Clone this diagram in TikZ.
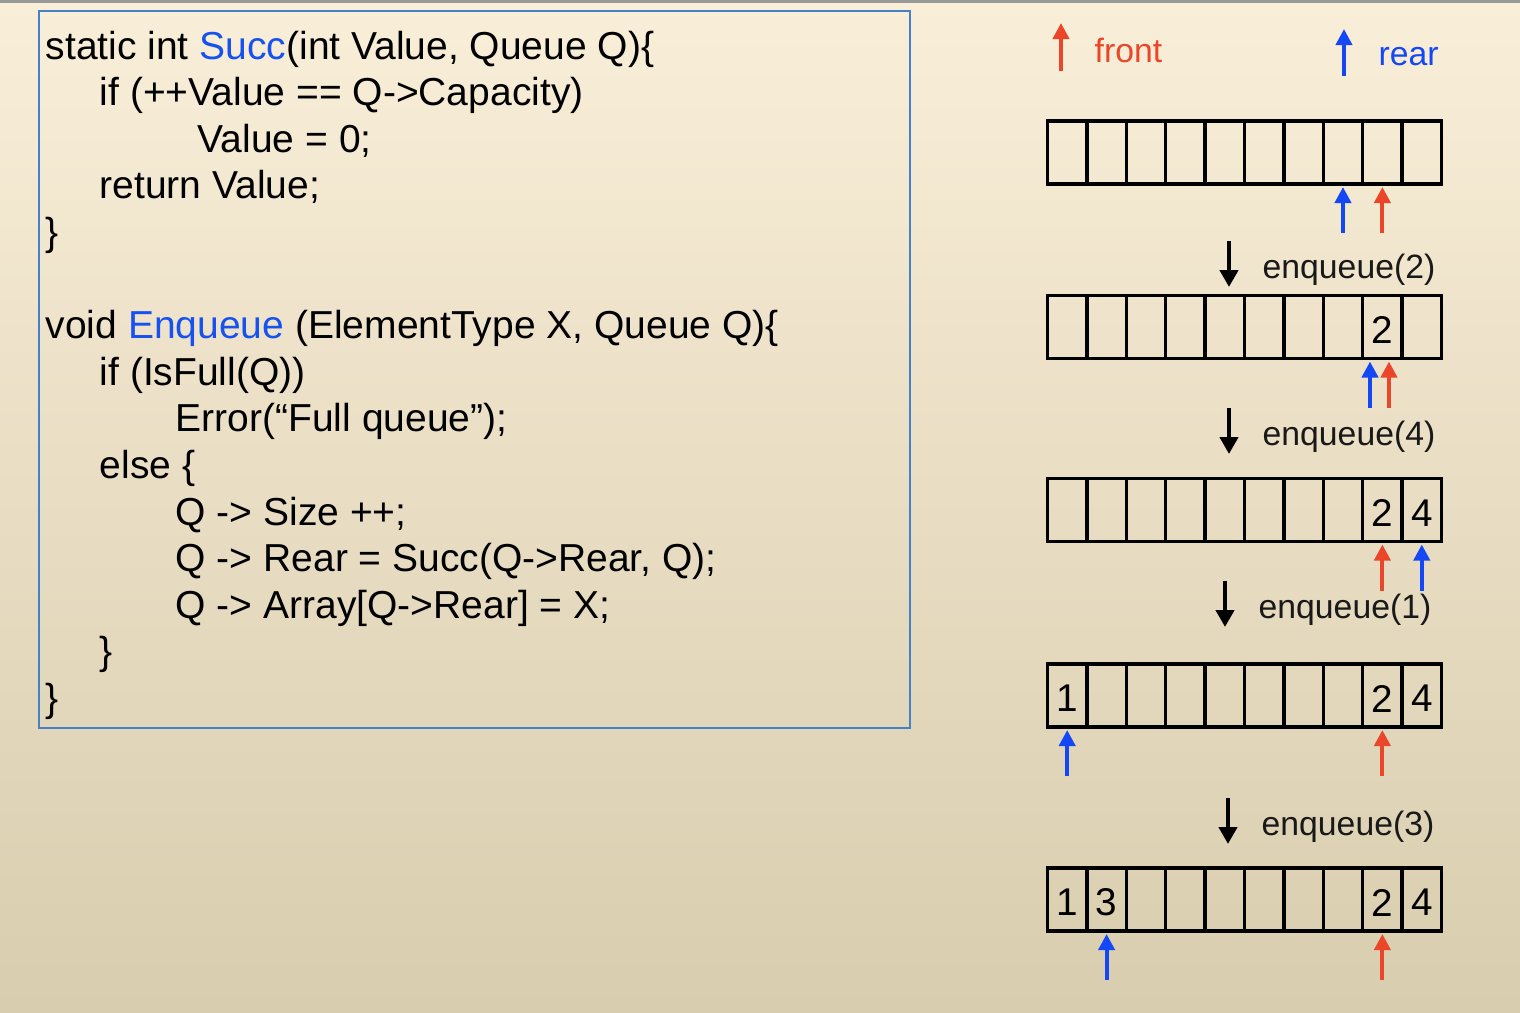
\documentclass[tikz,border=0pt]{standalone}
\usepackage{fontspec}
\setmainfont{Liberation Sans}
\usetikzlibrary{arrows.meta}
\definecolor{codeblue}{RGB}{22,82,240}
\definecolor{rearblue}{RGB}{20,72,245}
\definecolor{frontred}{RGB}{234,70,42}
\definecolor{framblue}{RGB}{72,128,200}
\definecolor{bgtop}{RGB}{249,238,216}
\definecolor{bgmid}{RGB}{240,234,214}
\definecolor{bgbot}{RGB}{216,205,174}

\begin{document}
\begin{tikzpicture}[
  codeline/.style={inner sep=0pt, font=\fontsize{11.1}{13}\selectfont},
  qcell/.style={draw, line width=1pt, minimum width=0.394cm, minimum height=0.63cm, inner sep=0pt, outer sep=0pt},
  qdigit/.style={inner sep=0pt, font=\fontsize{11}{13}\selectfont},
  qptr/.style={line width=1.1pt, -{Triangle[length=0.16cm,width=0.16cm]}},
  steparrow/.style={line width=1.4pt, -{Triangle[length=0.17cm,width=0.18cm]}},
  steplbl/.style={inner sep=0pt, text=black!90, font=\fontsize{9.6}{11}\selectfont},
  ptrlbl/.style={inner sep=0pt, font=\fontsize{9.6}{11}\selectfont}
  ]

\useasboundingbox (0,0) rectangle (15.2,-10.12);
\shade[top color=bgtop, middle color=bgmid, bottom color=bgbot] (0,0) rectangle (15.2,-10.12);
\fill[black!40] (0,0) rectangle (15.2,-0.025);

% code
\draw[framblue, line width=0.4pt] (0.39,-0.11) rectangle (9.10,-7.28);
\foreach \y/\x/\t in
    {1/0.45/{static int \textcolor{codeblue}{Succ}(int Value, Queue Q)\{},
     2/0.99/{if (++Value == Q->Capacity)},
     3/1.97/{Value = 0;},
     4/0.99/{return Value;},
     5/0.45/{\}},
     7/0.45/{void \textcolor{codeblue}{Enqueue} (ElementType X, Queue Q)\{},
     8/0.99/{if (IsFull(Q))},
     9/1.75/{Error(“Full queue”);},
     10/0.99/{else \{},
     11/1.75/{Q -> Size ++;},
     12/1.75/{Q -> Rear = Succ(Q->Rear, Q);},
     13/1.75/{Q -> Array[Q->Rear] = X;},
     14/0.99/{\}},
     15/0.45/{\}}}
  \node[codeline, anchor=base west] (L\y) at (\x, {-0.59-0.466*(\y-1)}) {\t};

% legend
\node[ptrlbl, text=frontred, anchor=west] (frontlbl) at (10.94,-0.50) {front};
\node[ptrlbl, text=rearblue, anchor=west] (rearlbl) at (13.78,-0.57) {rear};
\coordinate (fleg) at (10.61,-0.71);
\coordinate (rleg) at (13.44,-0.76);
\draw[qptr, frontred] (fleg) -- ++(0,0.48);
\draw[qptr, rearblue] (rleg) -- ++(0,0.47);

% queues
\foreach \a/\y in {1/1.525, 2/3.27, 3/5.10, 4/6.955, 5/8.995}
  \foreach \k in {1,...,10}
    \node[qcell] (A\a-\k) at ({10.672+0.394*(\k-1)}, -\y) {};

\foreach \a/\k/\v in {2/9/2, 3/9/2, 3/10/4, 4/1/1, 4/9/2, 4/10/4, 5/1/1, 5/2/3, 5/9/2, 5/10/4}
  \node[qdigit] (V\a-\k) at ([yshift=-0.03cm]A\a-\k) {\v};

\foreach \a/\k/\dx/\c in {1/9/0/frontred, 1/8/0/rearblue, 2/9/0.066/frontred, 2/9/-0.124/rearblue,
                          3/9/0/frontred, 3/10/0/rearblue, 4/9/0/frontred, 4/1/0/rearblue,
                          5/9/0/frontred, 5/2/0/rearblue}
  \draw[qptr, \c] ([xshift=\dx cm, yshift=-0.49cm]A\a-\k.south) -- ([xshift=\dx cm, yshift=-0.03cm]A\a-\k.south);

% steps
\foreach \n/\x/\y in {2/12.62/2.70, 4/12.62/4.37, 1/12.58/6.10, 3/12.61/8.27}
  {
  \node[steplbl, anchor=west] (E\n) at (\x,-\y) {enqueue(\n)};
  \draw[steparrow] ([xshift=-0.33cm, yshift=0.29cm]E\n.west) -- ([xshift=-0.33cm, yshift=-0.17cm]E\n.west);
  }
\end{tikzpicture}
\end{document}
